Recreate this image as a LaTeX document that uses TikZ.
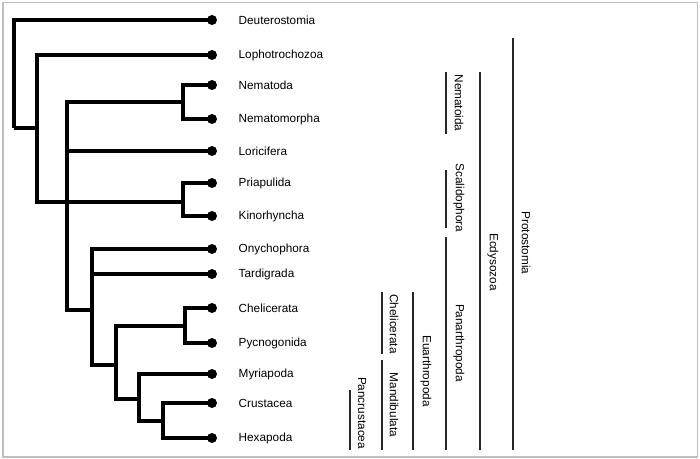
\documentclass[tikz,border=0pt]{standalone}
\usepackage{fontspec}
\setmainfont{Liberation Sans}
\usetikzlibrary{positioning}

\begin{document}
\begin{tikzpicture}[x=0.02cm,y=-0.02cm,
  tip/.style={circle,fill=black,inner sep=0pt,minimum size=0.2cm},
  taxon/.style={inner sep=0pt,font=\fontsize{6.7}{8}\selectfont},
  group/.style={rotate=-90,inner sep=0pt,font=\fontsize{6.7}{8}\selectfont},
  branch/.style={line width=1.9pt},
  bar/.style={line width=0.8pt,black!85}]

\useasboundingbox (0,0) rectangle (700,459);
\draw[black!25,line width=0.9pt] (3,2.5) rectangle (697.5,457);

% leaves
\node(deu)[tip] at (212,20) {};
\node(lop)[tip] at (212,55) {};
\node(nema)[tip] at (212,85) {};
\node(nemo)[tip] at (212,119) {};
\node(lor)[tip] at (212,151) {};
\node(pri)[tip] at (212,183) {};
\node(kin)[tip] at (212,216) {};
\node(ony)[tip] at (212,249) {};
\node(tar)[tip] at (212,274) {};
\node(chl)[tip] at (212,308) {};
\node(pyc)[tip] at (212,343) {};
\node(myr)[tip] at (212,374) {};
\node(cru)[tip] at (212,403) {};
\node(hex)[tip] at (212,438) {};

\node(ldeu)[taxon,right=0.42cm of deu] {Deuterostomia};
\node(llop)[taxon,right=0.42cm of lop] {Lophotrochozoa};
\node(lnema)[taxon,right=0.42cm of nema] {Nematoda};
\node(lnemo)[taxon,right=0.42cm of nemo] {Nematomorpha};
\node(llor)[taxon,right=0.42cm of lor] {Loricifera};
\node(lpri)[taxon,right=0.42cm of pri] {Priapulida};
\node(lkin)[taxon,right=0.42cm of kin] {Kinorhyncha};
\node(lony)[taxon,right=0.42cm of ony] {Onychophora};
\node(ltar)[taxon,right=0.42cm of tar] {Tardigrada};
\node(lchl)[taxon,right=0.42cm of chl] {Chelicerata};
\node(lpyc)[taxon,right=0.42cm of pyc] {Pycnogonida};
\node(lmyr)[taxon,right=0.42cm of myr] {Myriapoda};
\node(lcru)[taxon,right=0.42cm of cru] {Crustacea};
\node(lhex)[taxon,right=0.42cm of hex] {Hexapoda};

% internal nodes
\coordinate(root) at (14,128);
\coordinate(bil) at (37,128);
\coordinate(ecd) at (67,202);
\coordinate(nmd) at (183,102);
\coordinate(scl) at (183,202);
\coordinate(pan) at (92,310);
\coordinate(eua) at (116,365);
\coordinate(che) at (185,326);
\coordinate(man) at (139,399);
\coordinate(pcr) at (163,421);

\draw[branch] (root) |- (deu.center);
\draw[branch] (root) -- (bil);
\draw[branch] (bil) |- (lop.center);
\draw[branch] (bil) |- (ecd);
\draw[branch] (ecd) |- (nmd);
\draw[branch] (ecd) |- (lor.center);
\draw[branch] (ecd) -- (scl);
\draw[branch] (ecd) |- (pan);
\draw[branch] (nmd) |- (nema.center);
\draw[branch] (nmd) |- (nemo.center);
\draw[branch] (scl) |- (pri.center);
\draw[branch] (scl) |- (kin.center);
\draw[branch] (pan) |- (ony.center);
\draw[branch] (pan) |- (tar.center);
\draw[branch] (pan) |- (eua);
\draw[branch] (eua) |- (che);
\draw[branch] (eua) |- (man);
\draw[branch] (che) |- (chl.center);
\draw[branch] (che) |- (pyc.center);
\draw[branch] (man) |- (myr.center);
\draw[branch] (man) |- (pcr);
\draw[branch] (pcr) |- (cru.center);
\draw[branch] (pcr) |- (hex.center);

% clade bars
\draw[bar] (446,72) -- (446,134);
\draw[bar] (446,170) -- (446,228);
\draw[bar] (446,237) -- (446,450);
\draw[bar] (480,72) -- (480,450);
\draw[bar] (513,38) -- (513,450);
\draw[bar] (382,292) -- (382,354);
\draw[bar] (382,360) -- (382,450);
\draw[bar] (413,292) -- (413,450);
\draw[bar] (350,390) -- (350,450);

\node(gnmt)[group] at (459,103) {Nematoida};
\node(gscl)[group] at (459,198) {Scalidophora};
\node(gpan)[group] at (459,343) {Panarthropoda};
\node(gecd)[group] at (493,262) {Ecdysozoa};
\node(gpro)[group] at (526,243) {Protostomia};
\node(gche)[group] at (394,324) {Chelicerata};
\node(geua)[group] at (426,371) {Euarthropoda};
\node(gman)[group] at (394,405) {Mandibulata};
\node(gpcr)[group] at (362,413) {Pancrustacea};

\end{tikzpicture}
\end{document}
